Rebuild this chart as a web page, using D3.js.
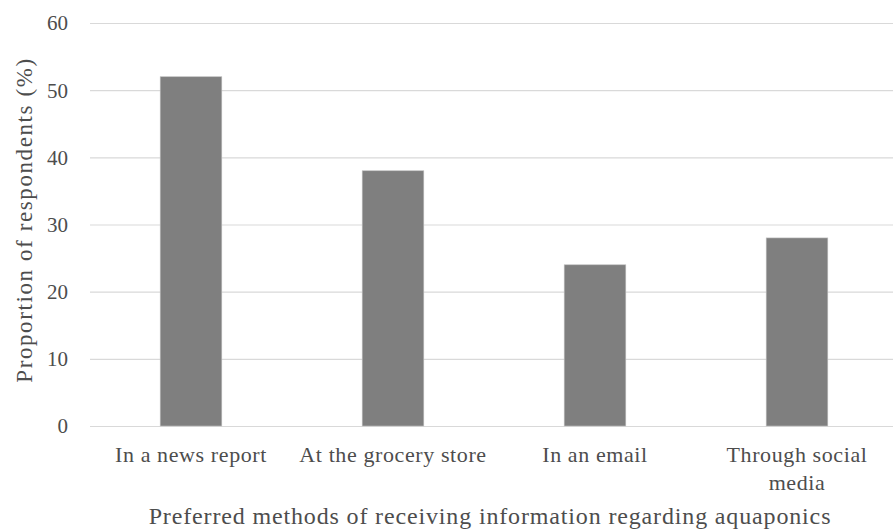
<!DOCTYPE html>
<html><head><meta charset="utf-8">
<script src="https://cdn.jsdelivr.net/npm/d3@7"></script>
<style>
body{margin:0;background:#fff;}
</style></head>
<body><svg id="c" width="893" height="531"></svg>
<script>
const categories = [["In a news report"], ["At the grocery store"], ["In an email"], ["Through social", "media"]];
const values = [52, 38, 24, 28];
const yTicks = [0, 10, 20, 30, 40, 50, 60];
const yTitle = "Proportion of respondents (%)";
const xTitle = "Preferred methods of receiving information regarding aquaponics";

(function () {
const FONT = "'Liberation Serif', 'Times New Roman', Times, serif";
const TXT = "#4d4d4d";
const svg = d3.select("#c");
const W = 893, H = 531;
const mLeft = 90, mRight = 898, mTop = 23, mBottom = 426;

const x = d3.scaleBand().domain(d3.range(categories.length)).range([mLeft, mRight]).padding(0);
const y = d3.scaleLinear().domain([0, 60]).range([mBottom, mTop]);
const barW = x.bandwidth() * 0.305;

svg.append("g").selectAll("line").data(yTicks).join("line")
  .attr("x1", mLeft).attr("x2", W)
  .attr("y1", d => y(d) + 0.5).attr("y2", d => y(d) + 0.5)
  .attr("stroke", "#d9d9d9").attr("stroke-width", 1.2);

svg.append("g").selectAll("text").data(yTicks).join("text")
  .attr("x", 68).attr("y", d => y(d)).attr("dy", "0.35em")
  .attr("text-anchor", "end").attr("font-family", FONT).attr("fill", TXT)
  .attr("font-size", 21).text(d => d);

svg.append("g").selectAll("rect").data(values).join("rect")
  .attr("x", (d, i) => x(i) + x.bandwidth() / 2 - barW / 2)
  .attr("width", barW)
  .attr("y", d => y(d)).attr("height", d => y(0) - y(d))
  .attr("fill", "#7f7f7f").attr("stroke", "#bfbfbf").attr("stroke-width", 0.6);

const cl = svg.append("g").selectAll("text").data(categories).join("text")
  .attr("text-anchor", "middle").attr("font-family", FONT).attr("fill", TXT).attr("font-size", 22)
  .attr("letter-spacing", 0.6)
  .attr("transform", (d, i) => `translate(${x(i) + x.bandwidth() / 2},462)`);
cl.selectAll("tspan").data(d => d).join("tspan")
  .attr("x", 0).attr("dy", (d, j) => j === 0 ? 0 : 28).text(d => d);

svg.append("text").attr("text-anchor", "middle")
  .attr("transform", `translate(31.5,220) rotate(-90)`)
  .attr("letter-spacing", 1.6)
  .attr("font-family", FONT).attr("fill", TXT).attr("font-size", 23).text(yTitle);

svg.append("text").attr("text-anchor", "middle")
  .attr("x", 490).attr("y", 524)
  .attr("letter-spacing", 0.85)
  .attr("font-family", FONT).attr("fill", TXT).attr("font-size", 24).text(xTitle);
})();
</script></body></html>
